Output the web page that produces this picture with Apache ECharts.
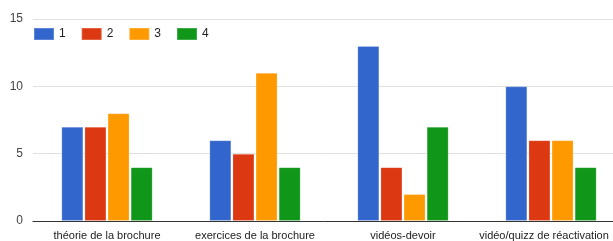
<!DOCTYPE html>
<html>
<head>
<meta charset="utf-8">
<script src="https://cdn.jsdelivr.net/npm/echarts@6/dist/echarts.min.js"></script>
<style>
  html, body { margin: 0; padding: 0; background: #fff; }
  #chart { width: 613px; height: 241px; }
</style>
</head>
<body>
<div id="chart"></div>
<script>
// categories and series values
const categories = ['théorie de la brochure', 'exercices de la brochure', 'vidéos-devoir', 'vidéo/quizz de réactivation'];
const seriesNames = ['1', '2', '3', '4'];
const values1 = [7, 6, 13, 10];
const values2 = [7, 5, 4, 6];
const values3 = [8, 11, 2, 6];
const values4 = [4, 4, 7, 4];
const colors = ['#3366cc', '#dc3912', '#ff9900', '#109618'];

const font = 'Arial, "Liberation Sans", sans-serif';
const chart = echarts.init(document.getElementById('chart'));

const allValues = [values1, values2, values3, values4];
const series = seriesNames.map((name, i) => ({
  name,
  type: 'bar',
  data: allValues[i],
  barWidth: 22,
  barGap: '5%',
  itemStyle: { color: colors[i], borderColor: 'rgba(255,255,255,0.2)', borderWidth: 1 },
  emphasis: { disabled: true }
}));

// the last label is pushed a little left so it stays inside the canvas
const categoryData = categories.map((c, i) =>
  i === categories.length - 1 ? { value: c, textStyle: { padding: [0, 14, 0, 0] } } : c
);

chart.setOption({
  animation: false,
  color: colors,
  legend: {
    left: 28,
    top: 22,
    itemWidth: 20,
    itemHeight: 12,
    itemGap: 15,
    icon: 'rect',
    textStyle: { fontFamily: font, fontSize: 12, color: '#222' },
    data: seriesNames
  },
  grid: { left: 33, right: -12, top: 19, bottom: 20, outerBoundsMode: 'none', containLabel: false },
  xAxis: {
    type: 'category',
    data: categoryData,
    axisLine: { lineStyle: { color: '#333', width: 1 } },
    axisTick: { show: false },
    axisLabel: { fontFamily: font, fontSize: 11, color: '#222', margin: 9, interval: 0 }
  },
  yAxis: {
    type: 'value',
    min: 0,
    max: 15,
    interval: 5,
    axisLine: { show: false },
    axisTick: { show: false },
    axisLabel: { fontFamily: font, fontSize: 12, color: '#444', margin: 10 },
    splitLine: { lineStyle: { color: '#e0e0e0', width: 1 } }
  },
  series
});
</script>
</body>
</html>
